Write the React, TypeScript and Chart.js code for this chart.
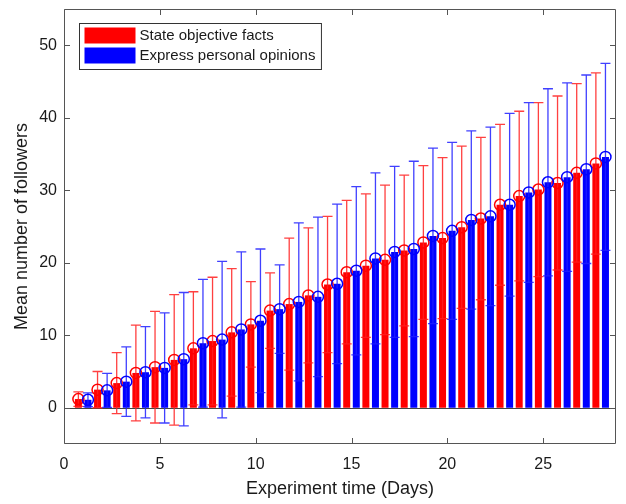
import React, { useEffect, useRef } from 'react';
import { Chart, registerables } from 'chart.js';

Chart.register(...registerables);

// ---------- data ----------
const days = [1, 2, 3, 4, 5, 6, 7, 8, 9, 10, 11, 12, 13, 14, 15, 16, 17, 18, 19, 20, 21, 22, 23, 24, 25, 26, 27, 28];
const factsMean = [1.2, 2.5, 3.4, 4.8, 5.6, 6.6, 8.2, 9.2, 10.4, 11.5, 13.4, 14.3, 15.5, 17.0, 18.7, 19.6, 20.4, 21.7, 22.8, 23.4, 24.9, 26.1, 28.0, 29.2, 30.1, 31.0, 32.4, 33.7];
const factsSD = [1.0, 2.5, 4.2, 6.6, 7.7, 9.0, 7.8, 8.8, 8.8, 5.9, 5.2, 9.1, 9.3, 9.4, 9.9, 9.9, 10.3, 10.4, 10.6, 11.1, 11.2, 11.2, 11.1, 11.7, 12.0, 12.0, 12.3, 12.5];
const opinionsMean = [1.1, 2.4, 3.6, 4.9, 5.5, 6.7, 8.9, 9.4, 10.8, 12.0, 13.6, 14.6, 15.3, 17.1, 18.9, 20.6, 21.5, 21.9, 23.7, 24.4, 25.9, 26.4, 28.0, 29.7, 31.1, 31.8, 32.9, 34.6];
const opinionsSD = [0.95, 2.35, 4.8, 6.3, 7.6, 9.2, 8.8, 10.8, 10.7, 9.9, 6.1, 10.9, 11.0, 11.0, 11.6, 11.8, 11.8, 12.1, 12.1, 12.2, 12.3, 12.3, 12.6, 12.4, 12.9, 13.0, 13.0, 12.9];
const xTicks = [0, 5, 10, 15, 20, 25];
const yTicks = [0, 10, 20, 30, 40, 50];
const seriesLabels = ['State objective facts', 'Express personal opinions'];
const seriesColors = ['#ff0000', '#0000ff'];
const errorColors = ['rgba(255,30,30,0.85)', 'rgba(30,30,255,0.85)'];

const FONT = '"Liberation Sans", Arial, Helvetica, sans-serif';
const AXIS_COLOR = '#555555';
const TEXT_COLOR = '#1a1a1a';

// ---------- plugins ----------
const baselinePlugin = {
  id: 'baseline',
  beforeDatasetsDraw(chart: any) {
    const { ctx, chartArea } = chart;
    const y0 = Math.round(chart.scales.y.getPixelForValue(0)) + 0.5;
    ctx.save();
    ctx.strokeStyle = '#444444';
    ctx.lineWidth = 1;
    ctx.beginPath();
    ctx.moveTo(chartArea.left, y0);
    ctx.lineTo(chartArea.right, y0);
    ctx.stroke();
    ctx.restore();
  },
};

const errorMarkerPlugin = {
  id: 'errorMarkers',
  afterDatasetsDraw(chart: any) {
    const { ctx } = chart;
    const ys = chart.scales.y;
    ctx.save();
    chart.data.datasets.forEach((ds: any, di: number) => {
      const meta = chart.getDatasetMeta(di);
      if (meta.type !== 'bar') return;
      ctx.strokeStyle = errorColors[di];
      ctx.lineWidth = 1.3;
      meta.data.forEach((bar: any, i: number) => {
        const mean = ds.data[i].y;
        const sd = ds.errors[i];
        const x = bar.x;
        const yTop = ys.getPixelForValue(mean + sd);
        const yBot = ys.getPixelForValue(mean - sd);
        ctx.beginPath();
        ctx.moveTo(x, yTop);
        ctx.lineTo(x, yBot);
        ctx.moveTo(x - 5, yTop);
        ctx.lineTo(x + 5, yTop);
        ctx.moveTo(x - 5, yBot);
        ctx.lineTo(x + 5, yBot);
        ctx.stroke();
      });
    });
    chart.data.datasets.forEach((ds: any, di: number) => {
      const meta = chart.getDatasetMeta(di);
      if (meta.type !== 'bar') return;
      ctx.strokeStyle = seriesColors[di];
      ctx.lineWidth = 1.5;
      meta.data.forEach((bar: any, i: number) => {
        const y = ys.getPixelForValue(ds.data[i].y);
        ctx.beginPath();
        ctx.arc(bar.x, y, 5.5, 0, Math.PI * 2);
        ctx.stroke();
      });
    });
    ctx.restore();
  },
};

const framePlugin = {
  id: 'frame',
  afterDraw(chart: any) {
    const { ctx, chartArea } = chart;
    const { left, right, top, bottom } = chartArea;
    const L = Math.round(left) + 0.5;
    const R = Math.round(right) - 0.5;
    const T = Math.round(top) + 0.5;
    const B = Math.round(bottom) - 0.5;
    const tl = 5.5;
    ctx.save();
    ctx.strokeStyle = AXIS_COLOR;
    ctx.lineWidth = 1;
    ctx.beginPath();
    ctx.rect(L, T, R - L, B - T);
    const xs = chart.scales.x;
    xs.ticks.forEach((t: any) => {
      const px = Math.round(xs.getPixelForValue(t.value)) + 0.5;
      ctx.moveTo(px, B);
      ctx.lineTo(px, B - tl);
      ctx.moveTo(px, T);
      ctx.lineTo(px, T + tl);
    });
    const ys = chart.scales.y;
    ys.ticks.forEach((t: any) => {
      const py = Math.round(ys.getPixelForValue(t.value)) + 0.5;
      ctx.moveTo(L, py);
      ctx.lineTo(L + tl, py);
      ctx.moveTo(R, py);
      ctx.lineTo(R - tl, py);
    });
    ctx.stroke();

    // legend
    ctx.font = `15px ${FONT}`;
    const labels = chart.data.datasets.map((d: any) => d.label);
    const maxW = Math.max(...labels.map((s: string) => ctx.measureText(s).width));
    const bx = Math.round(left) + 15 + 0.5;
    const by = Math.round(top) + 14 + 0.5;
    const rowH = 20;
    const bw = 60 + maxW + 6;
    const bh = 4 + rowH * labels.length + 2;
    ctx.fillStyle = '#ffffff';
    ctx.fillRect(bx, by, bw, bh);
    ctx.strokeStyle = '#333333';
    ctx.strokeRect(bx, by, bw, bh);
    labels.forEach((lab: string, i: number) => {
      const ry = by + 4 + i * rowH;
      ctx.fillStyle = seriesColors[i];
      ctx.fillRect(bx + 5, ry, 51, 16);
      ctx.fillStyle = TEXT_COLOR;
      ctx.textBaseline = 'middle';
      ctx.textAlign = 'left';
      ctx.fillText(lab, bx + 60, ry + 8.5);
    });
    ctx.restore();
  },
};

// ---------- component ----------
export default function App() {
  const ref = useRef<HTMLCanvasElement>(null);

  useEffect(() => {
    if (!ref.current) return;
    const chart = new Chart(ref.current, {
      type: 'bar',
      data: {
        datasets: [
          {
            label: seriesLabels[0],
            data: days.map((d, i) => ({ x: d, y: factsMean[i] })),
            errors: factsSD,
            backgroundColor: seriesColors[0],
            borderWidth: 0,
            categoryPercentage: 1.0,
            barPercentage: 0.73,
          } as any,
          {
            label: seriesLabels[1],
            data: days.map((d, i) => ({ x: d, y: opinionsMean[i] })),
            errors: opinionsSD,
            backgroundColor: seriesColors[1],
            borderWidth: 0,
            categoryPercentage: 1.0,
            barPercentage: 0.73,
          } as any,
        ],
      },
      options: {
        responsive: false,
        animation: false,
        devicePixelRatio: 1,
        layout: { padding: { top: 9, right: 10, left: 0, bottom: 0 } },
        plugins: {
          legend: { display: false },
          tooltip: { enabled: false },
        },
        scales: {
          x: {
            type: 'linear',
            min: 0,
            max: 28.8,
            offset: false,
            grid: { display: false, drawTicks: false },
            border: { display: false },
            afterBuildTicks: (s: any) => {
              s.ticks = xTicks.map((v) => ({ value: v }));
            },
            afterFit: (s: any) => {
              s.height = 60;
              s.paddingLeft = 0;
              s.paddingRight = 0;
            },
            ticks: {
              autoSkip: false,
              maxRotation: 0,
              padding: 11,
              color: TEXT_COLOR,
              font: { family: FONT, size: 16 },
            },
            title: {
              display: true,
              text: 'Experiment time (Days)',
              color: TEXT_COLOR,
              font: { family: FONT, size: 18 },
              padding: { top: 0, bottom: 4 },
            },
          },
          y: {
            type: 'linear',
            min: -5,
            max: 55,
            grid: { display: false, drawTicks: false },
            border: { display: false },
            afterBuildTicks: (s: any) => {
              s.ticks = yTicks.map((v) => ({ value: v }));
            },
            afterFit: (s: any) => {
              s.width = 64;
              s.paddingTop = 0;
              s.paddingBottom = 0;
            },
            ticks: {
              autoSkip: false,
              padding: 7,
              color: TEXT_COLOR,
              font: { family: FONT, size: 16 },
            },
            title: {
              display: true,
              text: 'Mean number of followers',
              color: TEXT_COLOR,
              font: { family: FONT, size: 18 },
              padding: { top: 11, bottom: 0 },
            },
          },
        },
      } as any,
      plugins: [baselinePlugin, errorMarkerPlugin, framePlugin],
    });
    return () => chart.destroy();
  }, []);

  return (
    <div style={{ position: 'absolute', left: 0, top: 0, width: 626, height: 504, background: '#ffffff' }}>
      <canvas ref={ref} width={626} height={504} style={{ display: 'block' }} />
    </div>
  );
}
